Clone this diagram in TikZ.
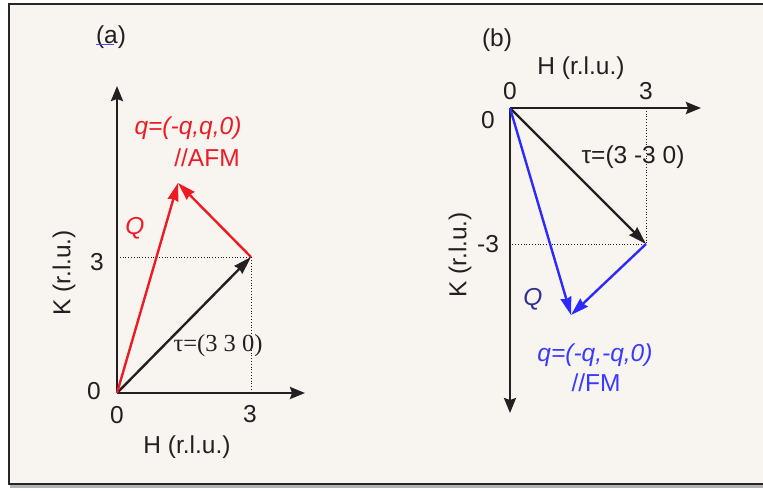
\documentclass[tikz,border=0pt]{standalone}
\usepackage{fontspec}
\setmainfont{Liberation Sans}
\newfontfamily\serifz{Liberation Serif}
\usetikzlibrary{arrows.meta}
\definecolor{bgc}{HTML}{F8F5F1}
\definecolor{inkc}{HTML}{231F20}
\definecolor{redc}{HTML}{ED1C24}
\definecolor{bluec}{HTML}{2B2BFF}
\definecolor{bluet}{HTML}{3A3AFF}
\definecolor{navyc}{HTML}{2E3192}
\begin{document}
\begin{tikzpicture}[x=1pt,y=-1pt,
  lab/.style={font=\fontsize{24.5}{28}\selectfont, inner sep=0pt, text=inkc},
  axis/.style={draw=inkc, line width=2.4pt, -{Stealth[length=15pt,width=12pt,inset=2pt]}},
  vec/.style={line width=2.4pt, -{Stealth[length=18pt,width=11pt,inset=1.5pt]}},
  guide/.style={draw=inkc, line width=0.8pt, dotted}]
\useasboundingbox (0,0) rectangle (763,490);
% frame
\fill[white] (0,0) rectangle (763,490);
\fill[gray!60] (10,483) rectangle (763,488);
\filldraw[fill=bgc, draw=black!85, line width=2pt] (9,4) rectangle (775,484);
% ---------- panel (a)
\coordinate (Oa) at (117,393);
\coordinate (Ha) at (305,393);
\coordinate (Ka) at (117,86);
\coordinate (Pa) at (251,257);
\coordinate (Ta) at (178,183);
\coordinate (Pax) at (251,393);
\coordinate (Pay) at (117,257);
\draw[guide] (Pay) -- (Pa) -- (Pax);
\draw[axis] (Oa) -- (Ha);
\draw[axis] (Oa) -- (Ka);
\draw[vec, draw=inkc, fill=inkc] (Oa) -- (Pa);
\draw[vec, draw=redc, fill=redc] (Oa) -- (Ta);
\draw[vec, draw=redc, fill=redc] (Pa) -- (Ta);
\node[lab] (la) at (111,37) {(a)};
\coordinate (ula) at (96,44);
\coordinate (ulb) at (114,44);
\draw[blue!70, line width=0.5pt] (ula) -- (ulb);
\node[lab, text=redc] (qa) at (188,128) {\itshape q=(-q,q,0)};
\node[lab, text=redc] (afm) at (207,158) {//AFM};
\node[lab, text=redc] (Qa) at (135,228) {\itshape Q};
\node[lab, rotate=90] (Kla) at (64,273) {K (r.l.u.)};
\node[lab] (k3a) at (97,262) {3};
\node[lab] (k0a) at (94,391) {0};
\node[lab] (h0a) at (117,415) {0};
\node[lab] (h3a) at (250,414) {3};
\node[lab] (Hla) at (187,447) {H (r.l.u.)};
\node[lab, font=\serifz\fontsize{24.5}{28}\selectfont] (taua) at (218,346) {τ=(3 3 0)};
% ---------- panel (b)
\coordinate (Ob) at (510,108);
\coordinate (Hb) at (701,108);
\coordinate (Kb) at (510,413);
\coordinate (Pb) at (646,244);
\coordinate (Tb) at (571,315);
\coordinate (Pbx) at (646,108);
\coordinate (Pby) at (510,244);
\draw[guide] (Pbx) -- (Pb) -- (Pby);
\draw[axis] (Ob) -- (Hb);
\draw[axis] (Ob) -- (Kb);
\draw[vec, draw=inkc, fill=inkc] (Ob) -- (Pb);
\draw[vec, draw=bluec, fill=bluec] (Ob) -- (Tb);
\draw[vec, draw=bluec, fill=bluec] (Pb) -- (Tb);
\node[lab] (lb) at (497,40) {(b)};
\node[lab] (Hlb) at (581,68) {H (r.l.u.)};
\node[lab] (h0b) at (510,91) {0};
\node[lab] (h3b) at (646,91) {3};
\node[lab] (k0b) at (488,120) {0};
\node[lab] (k3b) at (488,244) {-3};
\node[lab, rotate=90] (Klb) at (460,255) {K (r.l.u.)};
\node[lab] (taub) at (633,157) {τ=(3 -3 0)};
\node[lab, text=navyc] (Qb) at (533,299) {\itshape Q};
\node[lab, text=bluet] (qb) at (595,355) {\itshape q=(-q,-q,0)};
\node[lab, text=bluet] (fm) at (596,383) {//FM};
\end{tikzpicture}
\end{document}
